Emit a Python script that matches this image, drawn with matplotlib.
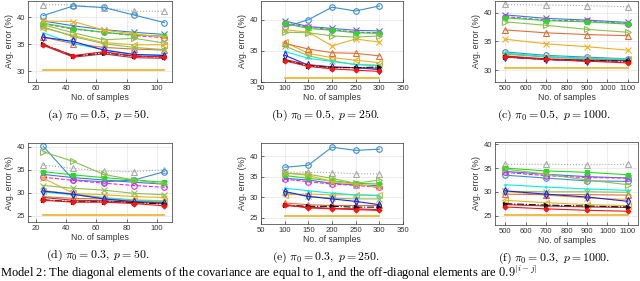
import numpy as np
import matplotlib.pyplot as plt

plt.rcParams["mathtext.fontset"] = "cm"
plt.rcParams["font.family"] = ["Liberation Sans", "DejaVu Sans"]

# sample sizes
x_small = [25, 45, 65, 85, 105]
x_mid = [100, 150, 200, 250, 300]
x_large = [500, 700, 900, 1100]

# series order (same in every panel)
series = ["gray_tri", "blue_circ", "lblue_x", "magenta", "lime_sq", "yel_x",
          "grn_tri", "yel_left", "org_tri", "grn_x", "cyan", "blue_dia",
          "brown", "black", "red"]

# (a) pi0 = 0.5, p = 50
err_a = [
    [42.3, 42.3, 41.7, 41.1, 41.1],
    [40.3, 42.1, 41.8, 40.4, 39.0],
    [39.3, 38.4, 37.7, 37.2, 36.8],
    [38.8, 37.8, 37.2, 36.6, 36.2],
    [38.9, 37.9, 37.2, 36.7, 36.5],
    [39.3, 39.2, 37.6, 36.9, 36.3],
    [38.6, 37.1, 35.8, 36.1, 35.2],
    [38.0, 36.6, 35.3, 34.9, 34.9],
    [36.3, 35.1, 34.4, 34.1, 33.9],
    [38.2, 36.4, 35.1, 34.4, 34.0],
    [37.1, 35.1, 34.0, 33.1, 33.0],
    [36.3, 35.5, 33.9, 33.1, 32.9],
    [34.8, 32.6, 33.2, 32.5, 32.4],
    [35.0, 32.8, 33.4, 32.8, 32.6],
    [34.9, 32.9, 33.6, 32.8, 32.7],
]
# (b) pi0 = 0.5, p = 250
err_b = [
    [44.5, 44.5, 44.5, 44.5, 44.5],
    [38.8, 40.0, 42.0, 41.4, 42.2],
    [39.8, 38.9, 38.6, 38.3, 38.2],
    [39.5, 38.8, 38.4, 38.0, 37.9],
    [39.4, 38.6, 38.3, 37.9, 37.8],
    [38.4, 38.0, 35.8, 36.9, 36.4],
    [38.0, 37.9, 37.4, 37.2, 37.4],
    [36.4, 34.6, 33.9, 33.5, 33.1],
    [36.2, 35.3, 34.7, 34.6, 34.2],
    [35.8, 34.2, 33.4, 32.8, 32.7],
    [34.9, 33.8, 33.3, 32.8, 32.6],
    [34.3, 32.7, 32.4, 32.3, 32.0],
    [33.6, 32.8, 32.4, 32.3, 32.2],
    [33.5, 32.6, 32.3, 32.3, 32.4],
    [33.4, 32.5, 32.1, 31.9, 31.7],
]
# (c) pi0 = 0.5, p = 1000
err_c = [
    [41.4, 41.3, 41.2, 41.0],
    [33.2, 32.6, 32.3, 32.0],
    [39.6, 39.0, 38.7, 38.3],
    [39.3, 38.7, 38.5, 38.1],
    [39.1, 38.6, 38.4, 38.0],
    [35.4, 34.6, 34.1, 33.5],
    [38.4, 37.8, 37.1, 36.6],
    [32.9, 32.4, 32.1, 31.9],
    [37.0, 36.5, 36.2, 36.0],
    [32.8, 32.3, 32.0, 31.8],
    [33.0, 32.4, 32.1, 31.9],
    [32.4, 31.9, 31.6, 31.7],
    [32.5, 32.0, 31.8, 31.7],
    [32.3, 31.9, 31.7, 31.6],
    [32.3, 31.9, 31.6, 31.3],
]
# (d) pi0 = 0.3, p = 50
err_d = [
    [36.0, 35.3, 34.7, 34.6, 35.0],
    [40.1, 32.8, 32.4, 32.8, 34.6],
    [34.0, 33.3, 32.8, 32.3, 31.9],
    [33.4, 32.7, 32.1, 31.6, 31.2],
    [34.6, 33.9, 33.3, 32.8, 32.3],
    [33.2, 29.9, 29.6, 29.2, 29.0],
    [38.9, 36.8, 34.0, 32.8, 31.9],
    [30.5, 29.8, 29.0, 28.5, 28.3],
    [29.2, 28.8, 28.7, 28.3, 28.1],
    [31.6, 31.0, 30.6, 29.9, 29.6],
    [30.2, 29.6, 28.9, 28.4, 28.0],
    [30.4, 29.7, 28.7, 28.1, 27.8],
    [29.0, 28.4, 28.3, 28.0, 27.7],
    [28.5, 28.1, 28.1, 27.9, 27.6],
    [28.4, 28.0, 28.0, 27.7, 27.2],
]
# (e) pi0 = 0.3, p = 250
err_e = [
    [36.1, 36.1, 36.0, 35.7, 35.7],
    [37.3, 37.8, 42.2, 41.4, 41.7],
    [34.6, 34.2, 33.4, 33.0, 32.8],
    [34.4, 33.8, 33.2, 32.9, 32.4],
    [35.3, 34.6, 34.0, 33.4, 33.2],
    [36.0, 35.3, 33.8, 33.2, 32.4],
    [35.8, 35.6, 34.6, 33.4, 34.2],
    [30.6, 30.8, 30.6, 30.6, 30.5],
    [28.6, 28.2, 28.0, 28.0, 28.0],
    [31.2, 30.2, 29.8, 29.6, 29.6],
    [32.2, 31.6, 31.0, 30.6, 30.4],
    [31.4, 30.2, 29.6, 29.0, 28.2],
    [28.0, 27.6, 27.3, 27.2, 27.0],
    [28.1, 27.8, 27.8, 27.6, 27.6],
    [28.2, 27.4, 27.2, 27.0, 26.8],
]
# (f) pi0 = 0.3, p = 1000
err_f = [
    [35.8, 35.8, 35.7, 35.8],
    [33.5, 32.9, 32.3, 32.2],
    [34.3, 33.7, 33.2, 32.9],
    [34.1, 33.4, 33.0, 32.9],
    [35.0, 34.4, 34.1, 33.6],
    [30.1, 29.3, 28.7, 28.4],
    [34.8, 33.7, 32.5, 31.5],
    [28.2, 27.7, 27.3, 27.1],
    [29.5, 29.4, 29.4, 29.3],
    [30.1, 30.0, 30.0, 29.9],
    [31.5, 31.0, 30.6, 30.3],
    [30.2, 29.5, 28.9, 28.0],
    [27.3, 27.0, 26.8, 26.7],
    [27.5, 27.2, 27.0, 26.8],
    [26.8, 26.4, 26.1, 25.9],
]

# oracle baseline per panel
baseline = [30.2, 30.7, 30.35, 25.25, 25.5, 25.1]

captions = [r"$\mathrm{(a)}\ \pi_0 = 0.5,\ p = 50.$",
            r"$\mathrm{(b)}\ \pi_0 = 0.5,\ p = 250.$",
            r"$\mathrm{(c)}\ \pi_0 = 0.5,\ p = 1000.$",
            r"$\mathrm{(d)}\ \pi_0 = 0.3,\ p = 50.$",
            r"$\mathrm{(e)}\ \pi_0 = 0.3,\ p = 250.$",
            r"$\mathrm{(f)}\ \pi_0 = 0.3,\ p = 1000.$"]

styles = {
    "gray_tri": dict(color="#a9a9a9", marker="^", ls=":", mfc="none"),
    "blue_circ": dict(color="#3a8fd0", marker="o", ls="-", mfc="none"),
    "lblue_x": dict(color="#3d7cc9", marker="x", ls="-", mfc="none"),
    "magenta": dict(color="#ee22ee", marker="o", ls="--", mfc="none"),
    "lime_sq": dict(color="#22dd22", marker="s", ls="-", mfc="#22dd22", ms=3),
    "yel_x": dict(color="#EDB120", marker="x", ls="-", mfc="none"),
    "grn_tri": dict(color="#8cc050", marker=">", ls="-", mfc="none"),
    "yel_left": dict(color="#EDB120", marker="<", ls="-", mfc="none"),
    "org_tri": dict(color="#e0703a", marker="^", ls="-", mfc="none"),
    "grn_x": dict(color="#8cc050", marker="x", ls="-", mfc="none"),
    "cyan": dict(color="#00eeee", marker=".", ls="-", mfc="#00eeee", ms=2),
    "blue_dia": dict(color="#2222ee", marker="d", ls="-", mfc="none"),
    "brown": dict(color="#b03040", marker=".", ls="-", mfc="#b03040", ms=2),
    "black": dict(color="#111111", marker=">", ls="-.", mfc="#111111", ms=3),
    "red": dict(color="#ff1010", marker="D", ls="-", mfc="#ff1010", ms=2.5),
}

W, H = 640, 281
# axes boxes in pixels: left, right, top, bottom
boxes = [(28, 172, 1, 82), (261, 403, 1, 82), (495, 638, 1, 82),
         (28, 172, 143, 222), (261, 403, 143, 224), (495, 638, 142, 225)]
xs = [x_small, x_mid, x_large, x_small, x_mid, x_large]
errs = [err_a, err_b, err_c, err_d, err_e, err_f]
xlims = [(15, 110), (50, 350), (450, 1150)] * 2
ylims = [(28, 43), (30, 43), (28, 42), (23.7, 40.8), (23.5, 43.2), (23, 40.5)]
xticks = [range(20, 101, 20), range(50, 351, 50), range(500, 1101, 100)] * 2
yticks = [[30, 35, 40]] * 3 + [[25, 30, 35, 40]] * 3
cap_x = [98, 326, 554, 98, 326, 554]

fig = plt.figure(figsize=(W / 100, H / 100), dpi=100)
for i in range(6):
    l, r, t, b = boxes[i]
    ax = fig.add_axes([l / W, 1 - b / H, (r - l) / W, (b - t) / H])
    x = xs[i]
    for name, vals in zip(series, errs[i]):
        st = dict(styles[name])
        ms = st.pop("ms", 4)
        ax.plot(x, vals, lw=0.8, ms=ms, mew=0.8, **st)
    ax.plot([x[0], x[-1]], [baseline[i], baseline[i]], color="#EDB120", lw=1.2)
    ax.set_xlim(*xlims[i])
    ax.set_ylim(*ylims[i])
    ax.set_xticks(list(xticks[i]))
    ax.set_yticks(yticks[i])
    ax.grid(True, color="#e4e4e4", lw=0.5)
    ax.set_axisbelow(True)
    ax.tick_params(direction="in", length=2, width=0.5, labelsize=5.5,
                   colors="#333333", pad=2)
    for sp in ax.spines.values():
        sp.set_color("#333333")
        sp.set_linewidth(0.5)
    ax.set_xlabel("No. of samples", fontsize=6.2, color="#333333", labelpad=1)
    ax.set_ylabel("Avg. error (%)", fontsize=6.2, color="#333333", labelpad=2)
    fig.text(cap_x[i] / W, 1 - (b + 33) / H, captions[i], ha="center",
             va="center", fontsize=8.5)

fig.text(0.0, 3.5 / H,
         r"Model 2: The diagonal elements of the covariance are equal to 1, "
         r"and the off-diagonal elements are $0.9^{|i-j|}$",
         family="Liberation Serif", fontsize=9, ha="left", va="baseline")

fig.savefig("out.png", dpi=100)
